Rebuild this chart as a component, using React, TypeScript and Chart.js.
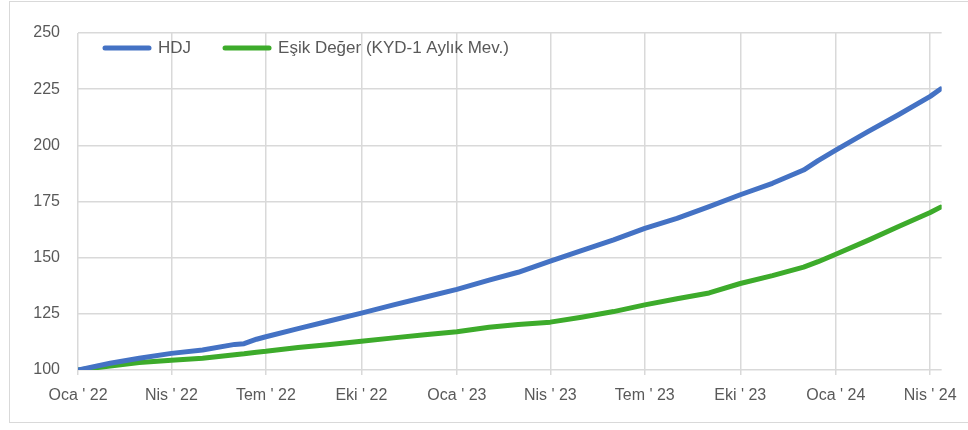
import React, { useEffect, useRef } from "react";
import { Chart, registerables } from "chart.js";

Chart.register(...registerables);

const START_DATE = "2022-01-01";

const DATES = [
  "2022-01-01", "2022-02-01", "2022-03-01", "2022-04-01", "2022-05-01", "2022-06-01",
  "2022-06-10", "2022-06-22", "2022-07-01", "2022-08-01", "2022-09-01", "2022-10-01",
  "2022-11-01", "2022-12-01", "2023-01-01", "2023-02-01", "2023-03-01", "2023-04-01",
  "2023-05-01", "2023-06-01", "2023-07-01", "2023-08-01", "2023-09-01", "2023-10-01",
  "2023-11-01", "2023-12-01", "2023-12-15", "2024-01-01", "2024-02-01", "2024-03-01",
  "2024-04-01", "2024-04-11",
];

const HDJ = [
  100.0, 103.0, 105.2, 107.4, 108.9, 111.4,
  111.7, 113.7, 114.8, 118.4, 121.9, 125.3,
  129.0, 132.4, 135.9, 140.0, 143.5, 148.5,
  153.1, 157.9, 163.0, 167.5, 172.7, 178.0,
  183.1, 189.0, 193.2, 197.9, 206.1, 213.5,
  221.8, 225.1,
];

const ESIK = [
  100.0, 101.8, 103.3, 104.3, 105.2, 106.8,
  107.2, 107.9, 108.3, 110.0, 111.4, 112.8,
  114.3, 115.7, 117.0, 119.0, 120.3, 121.3,
  123.5, 126.0, 129.0, 131.7, 134.3, 138.5,
  142.0, 145.8, 148.2, 151.5, 157.7, 163.8,
  170.1, 172.5,
];

const SERIES_NAMES = ["HDJ", "Eşik Değer (KYD-1 Aylık Mev.)"];
const SERIES_COLORS = ["#4472c4", "#3dab2b"];

const TICK_DATES = [
  "2022-01-01", "2022-04-01", "2022-07-01", "2022-10-01", "2023-01-01",
  "2023-04-01", "2023-07-01", "2023-10-01", "2024-01-01", "2024-04-01",
];
const TICK_LABELS = [
  "Oca ' 22", "Nis ' 22", "Tem ' 22", "Eki ' 22", "Oca ' 23",
  "Nis ' 23", "Tem ' 23", "Eki ' 23", "Oca ' 24", "Nis ' 24",
];

const Y_MIN = 100;
const Y_MAX = 250;
const Y_STEP = 25;
const X_END_DATE = "2024-04-12";

const dayIndex = (d: string) =>
  Math.round((Date.parse(d + "T00:00:00Z") - Date.parse(START_DATE + "T00:00:00Z")) / 86400000);

const FONT = "'Liberation Sans', Arial, sans-serif";
const TEXT_COLOR = "#595959";
const GRID_COLOR = "#d9d9d9";

const legendPlugin = {
  id: "insideLegend",
  afterDatasetsDraw(chart: any) {
    const { ctx, chartArea } = chart;
    const y = chartArea.top + 15;
    let x = chartArea.left + 25;
    ctx.save();
    ctx.font = `17px ${FONT}`;
    ctx.textBaseline = "middle";
    ctx.textAlign = "left";
    chart.data.datasets.forEach((ds: any) => {
      ctx.strokeStyle = ds.borderColor;
      ctx.lineWidth = 5;
      ctx.lineCap = "round";
      ctx.beginPath();
      ctx.moveTo(x + 2, y);
      ctx.lineTo(x + 46, y);
      ctx.stroke();
      ctx.fillStyle = TEXT_COLOR;
      const tx = x + 55;
      ctx.fillText(ds.label, tx, y);
      const w = ctx.measureText(ds.label).width;
      x = tx + w + 32;
    });
    ctx.restore();
  },
};

export default function App() {
  const canvasRef = useRef<HTMLCanvasElement | null>(null);

  useEffect(() => {
    if (!canvasRef.current) return;
    const xs = DATES.map(dayIndex);
    const tickValues = TICK_DATES.map(dayIndex);
    const chart = new Chart(canvasRef.current, {
      type: "line",
      data: {
        datasets: [HDJ, ESIK].map((vals, i) => ({
          label: SERIES_NAMES[i],
          data: vals.map((v, j) => ({ x: xs[j], y: v })),
          borderColor: SERIES_COLORS[i],
          backgroundColor: SERIES_COLORS[i],
          borderWidth: 5,
          borderCapStyle: "round",
          borderJoinStyle: "round",
          pointRadius: 0,
          tension: 0,
          fill: false,
        })),
      },
      options: {
        animation: false,
        responsive: true,
        maintainAspectRatio: false,
        layout: { padding: { top: 33, right: 26, left: 0, bottom: 0 }, autoPadding: false },
        plugins: {
          legend: { display: false },
          tooltip: { enabled: false },
        },
        scales: {
          x: {
            type: "linear",
            min: 0,
            max: dayIndex(X_END_DATE),
            afterFit: (s: any) => { s.height = 60; },
            afterBuildTicks: (s: any) => { s.ticks = tickValues.map((v) => ({ value: v })); },
            grid: { color: GRID_COLOR, lineWidth: 1.5, drawTicks: true, tickLength: 5 },
            border: { display: false },
            ticks: {
              autoSkip: false,
              maxRotation: 0,
              padding: 11,
              color: TEXT_COLOR,
              font: { family: FONT, size: 16 },
              callback: (v: any) => {
                const k = tickValues.indexOf(Number(v));
                return k >= 0 ? TICK_LABELS[k] : "";
              },
            },
          },
          y: {
            min: Y_MIN,
            max: Y_MAX,
            afterFit: (s: any) => { s.width = 78; },
            grid: { color: GRID_COLOR, lineWidth: 1.5, drawTicks: false },
            border: { display: false },
            ticks: {
              stepSize: Y_STEP,
              padding: 18,
              color: TEXT_COLOR,
              font: { family: FONT, size: 16 },
            },
          },
        },
      },
      plugins: [legendPlugin],
    } as any);
    return () => chart.destroy();
  }, []);

  return (
    <div style={{ position: "absolute", left: 0, top: 0, width: 968, height: 430, background: "#fff" }}>
      <div
        style={{
          position: "absolute",
          left: 9,
          top: 1,
          width: 959,
          height: 422,
          boxSizing: "border-box",
          border: "1px solid #d9d9d9",
          borderRight: "none",
        }}
      />
      <div style={{ position: "absolute", left: 0, top: 0, width: 968, height: 430 }}>
        <canvas ref={canvasRef} />
      </div>
    </div>
  );
}
